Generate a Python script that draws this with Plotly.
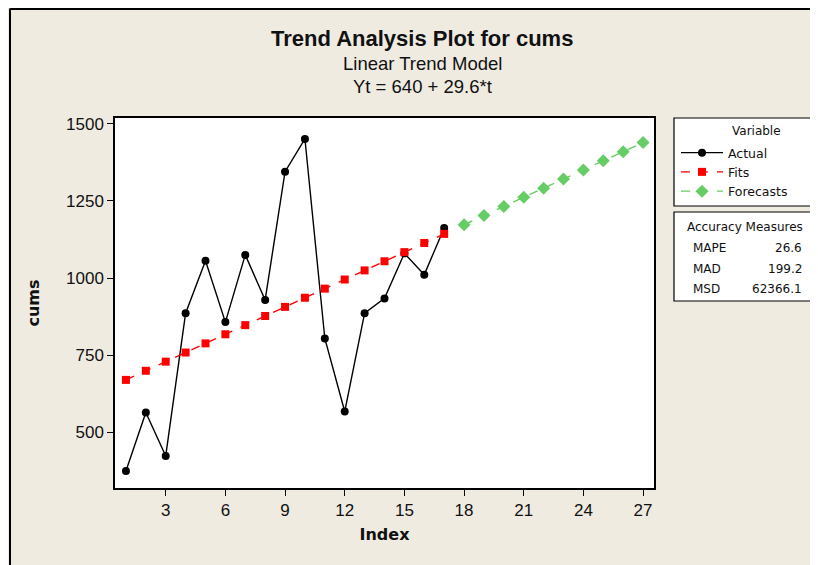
import plotly.graph_objects as go

t_actual = list(range(1, 18))
actual = [374, 564, 423, 886, 1056, 857, 1075, 929, 1345, 1451, 804, 567, 886, 934, 1080, 1011, 1162]
fits = [669.6, 699.2, 728.8, 758.4, 788.0, 817.6, 847.2, 876.8, 906.4, 936.0, 965.6, 995.2,
        1024.8, 1054.4, 1084.0, 1113.6, 1143.2]
t_fc = list(range(18, 28))
forecasts = [1172.8, 1202.4, 1232.0, 1261.6, 1291.2, 1320.8, 1350.4, 1380.0, 1409.6, 1439.2]
x_ticks = [3, 6, 9, 12, 15, 18, 21, 24, 27]
y_ticks = [500, 750, 1000, 1250, 1500]
acc_names = ["MAPE", "MAD", "MSD"]
acc_vals = ["26.6", "199.2", "62366.1"]

SANS = "Liberation Sans"
SMALL = "DejaVu Sans"
OFF = 8  # browser body margin
W, H = 830, 570
# plot area in page pixels
PL, PR, PT, PB = 115, 654, 118, 488
L, R, T, B = PL - OFF, PR - OFF, PT - OFF, PB - OFF


def px(x):
    return (x - PL) / (PR - PL)


def py(y):
    return (PB - y) / (PB - PT)


fig = go.Figure()
fig.add_trace(go.Scatter(x=t_actual, y=actual, mode="lines+markers", name="Actual",
                         line=dict(color="black", width=1.4),
                         marker=dict(symbol="circle", size=8, color="black")))
fig.add_trace(go.Scatter(x=t_actual, y=fits, mode="lines+markers", name="Fits",
                         line=dict(color="#ff0000", width=1.4, dash="dash"),
                         marker=dict(symbol="square", size=8, color="#ff0000")))
fig.add_trace(go.Scatter(x=t_fc, y=forecasts, mode="lines+markers", name="Forecasts",
                         line=dict(color="#66cc66", width=1.4, dash="dash"),
                         marker=dict(symbol="diamond", size=10, color="#66cc66")))

shapes = [
    dict(type="line", xref="paper", yref="paper", x0=px(9.5), x1=px(850), y0=py(9), y1=py(9),
         line=dict(color="black", width=2)),
    dict(type="line", xref="paper", yref="paper", x0=px(10), x1=px(10), y0=py(9), y1=py(590),
         line=dict(color="black", width=2)),
    dict(type="rect", xref="paper", yref="paper", x0=px(674), x1=px(850), y0=py(118), y1=py(206),
         fillcolor="white", line=dict(color="black", width=1.2), layer="below"),
    dict(type="rect", xref="paper", yref="paper", x0=px(674), x1=px(850), y0=py(212), y1=py(301),
         fillcolor="white", line=dict(color="black", width=1.2), layer="below"),
]

ann = [
    dict(text="<b>Trend Analysis Plot for cums</b>", x=px(422), y=py(39), font=dict(size=22, family=SANS)),
    dict(text="Linear Trend Model", x=px(422), y=py(64), font=dict(size=18.5, family=SANS)),
    dict(text="Yt = 640 + 29.6*t", x=px(422), y=py(87), font=dict(size=18.5, family=SANS)),
    dict(text="Variable", x=px(756), y=py(131), font=dict(size=12, family=SMALL)),
    dict(text="Accuracy Measures", x=px(685), y=py(227), xanchor="left", font=dict(size=12, family=SMALL)),
]
for i, (n, v) in enumerate(zip(acc_names, acc_vals)):
    yy = 248 + i * 20.5
    ann.append(dict(text=n, x=px(691), y=py(yy), xanchor="left", font=dict(size=12, family=SMALL)))
    ann.append(dict(text=v, x=px(804), y=py(yy), xanchor="right", font=dict(size=12, family=SMALL)))
for a in ann:
    a.update(xref="paper", yref="paper", showarrow=False, yanchor="middle")
    a.setdefault("xanchor", "center")
    a["font"].update(color="#111111")

fig.update_layout(
    width=W, height=H,
    margin=dict(l=L, r=W - R, t=T, b=H - B),
    paper_bgcolor="#efebe1", plot_bgcolor="white",
    font=dict(family=SANS, color="#111111"),
    shapes=shapes, annotations=ann,
    showlegend=True,
    legend=dict(x=px(676), y=py(138), xanchor="left", yanchor="top",
                bgcolor="rgba(0,0,0,0)", borderwidth=0,
                font=dict(size=12.5, family=SMALL, color="#111111"),
                tracegroupgap=0, itemwidth=42),
    xaxis=dict(range=[0.45, 27.55], tickvals=x_ticks, ticks="outside", ticklen=6,
               tickcolor="black", showline=True, linecolor="black", linewidth=1.5, mirror=True,
               showgrid=False, zeroline=False, tickfont=dict(size=17),
               title=dict(text="<b>Index</b>", font=dict(size=16, family=SMALL), standoff=10)),
    yaxis=dict(range=[319, 1519], tickvals=y_ticks, ticks="outside", ticklen=6,
               tickcolor="black", showline=True, linecolor="black", linewidth=1.5, mirror=True,
               showgrid=False, zeroline=False, tickfont=dict(size=17),
               title=dict(text="<b>cums</b>", font=dict(size=16, family=SMALL), standoff=22)),
)

fig.write_html("out.html")
